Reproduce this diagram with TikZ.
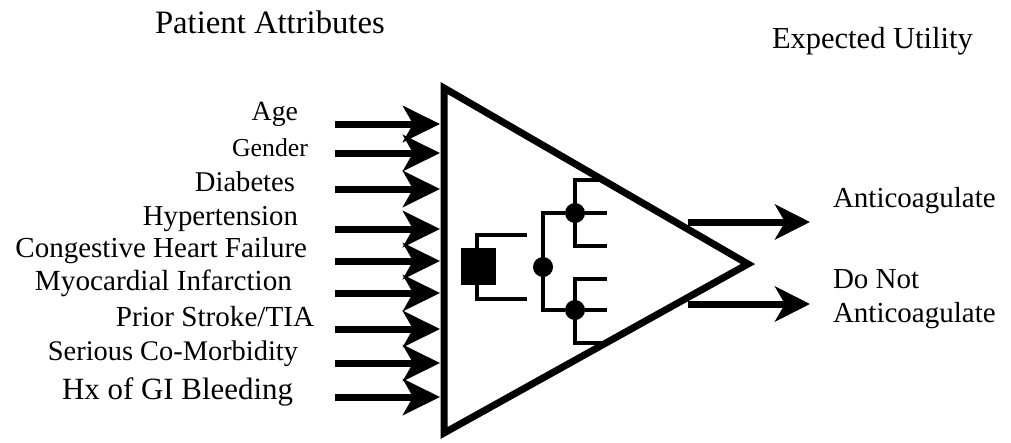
\documentclass[tikz,border=0pt]{standalone}
\usepackage{fontspec}
\setmainfont{Liberation Serif}
\usetikzlibrary{arrows.meta}
\newcommand\fsz[1]{\fontsize{#1pt}{34pt}\selectfont}
\begin{document}
\begin{tikzpicture}[x=1pt,y=-1pt,
  lbl/.style={inner sep=0pt,outer sep=0pt,text=black},
  inarrow/.style={line width=7pt,-{Stealth[length=37pt,width=36pt,inset=10pt]}},
  outarrow/.style={line width=7pt,-{Stealth[length=35pt,width=35pt,inset=10pt]}},
  tri/.style={line width=7pt,line join=miter},
  tree/.style={line width=4pt},
  chance/.style={circle,fill=black,inner sep=0pt,minimum size=20pt},
  decision/.style={rectangle,fill=black,inner sep=0pt,minimum width=35pt,minimum height=37pt}]
\useasboundingbox (0,0) rectangle (1011,442);
% titles
\node[lbl,anchor=base west] (pa) at (155,33) {\fsz{32.7}Patient Attributes};
\node[lbl,anchor=base west] (eu) at (772,48) {\fsz{30.5}Expected Utility};
% triangle
\coordinate (tA) at (444,88);
\coordinate (tB) at (444,433);
\coordinate (tC) at (748,264);
\draw[tri] (tA) -- (tB) -- (tC) -- cycle;
% input labels
\node[lbl,anchor=base east] (l1) at (298,120) {\fsz{27.8}Age};
\node[lbl,anchor=base east] (l2) at (308,156) {\fsz{25.8}Gender};
\node[lbl,anchor=base east] (l3) at (295,191) {\fsz{28.6}Diabetes};
\node[lbl,anchor=base east] (l4) at (298,225) {\fsz{28.8}Hypertension};
\node[lbl,anchor=base east] (l5) at (307,257) {\fsz{29}Congestive Heart Failure};
\node[lbl,anchor=base east] (l6) at (292,290) {\fsz{29.2}Myocardial Infarction};
\node[lbl,anchor=base east] (l7) at (314,326) {\fsz{29.1}Prior Stroke/TIA};
\node[lbl,anchor=base east] (l8) at (298,360) {\fsz{28.4}Serious Co-Morbidity};
\node[lbl,anchor=base east] (l9) at (293,399) {\fsz{30.9}Hx of GI Bleeding};
% input arrows
\foreach \i/\y in {1/124,2/153,3/189,4/229,5/261,6/293,7/329,8/363,9/397}{
  \coordinate (s\i) at (335,\y);
  \coordinate (e\i) at (440,\y);
  \draw[inarrow] (s\i) -- (e\i);
}
% decision tree
\node[decision] (dec) at (478.5,266.5) {};
\coordinate (d1) at (477,235); \coordinate (d1e) at (527,235);
\coordinate (d2) at (477,299); \coordinate (d2e) at (527,299);
\draw[tree] (dec.north -| d1) -- (d1) -- (d1e);
\draw[tree] (dec.south -| d2) -- (d2) -- (d2e);
\node[chance] (c0) at (543,267) {};
\node[chance] (c1) at (575,213) {};
\node[chance] (c2) at (575,310) {};
\coordinate (k1) at (543,213); \coordinate (k2) at (543,310);
\draw[tree] (c1) -- (k1) -- (k2) -- (c2);
% upper chance branches
\coordinate (u1) at (575,180); \coordinate (u1e) at (603,180);
\coordinate (u2e) at (607,213);
\coordinate (u3) at (575,246); \coordinate (u3e) at (607,246);
\draw[tree] (u1e) -- (u1) -- (u3) -- (u3e);
\draw[tree] (c1) -- (u2e);
% lower chance branches
\coordinate (w1) at (575,279); \coordinate (w1e) at (607,279);
\coordinate (w2e) at (607,310);
\coordinate (w3) at (575,343); \coordinate (w3e) at (606,343);
\draw[tree] (w1e) -- (w1) -- (w3) -- (w3e);
\draw[tree] (c2) -- (w2e);
% outputs
\coordinate (o1s) at (688,222); \coordinate (o1e) at (810,222);
\coordinate (o2s) at (688,304); \coordinate (o2e) at (810,304);
\draw[outarrow] (o1s) -- (o1e);
\draw[outarrow] (o2s) -- (o2e);
\node[lbl,anchor=base west] (r1) at (833,207) {\fsz{29}Anticoagulate};
\node[lbl,anchor=base west] (r2) at (833,288) {\fsz{29}Do Not};
\node[lbl,anchor=base west] (r3) at (833,322) {\fsz{29}Anticoagulate};
\end{tikzpicture}
\end{document}
